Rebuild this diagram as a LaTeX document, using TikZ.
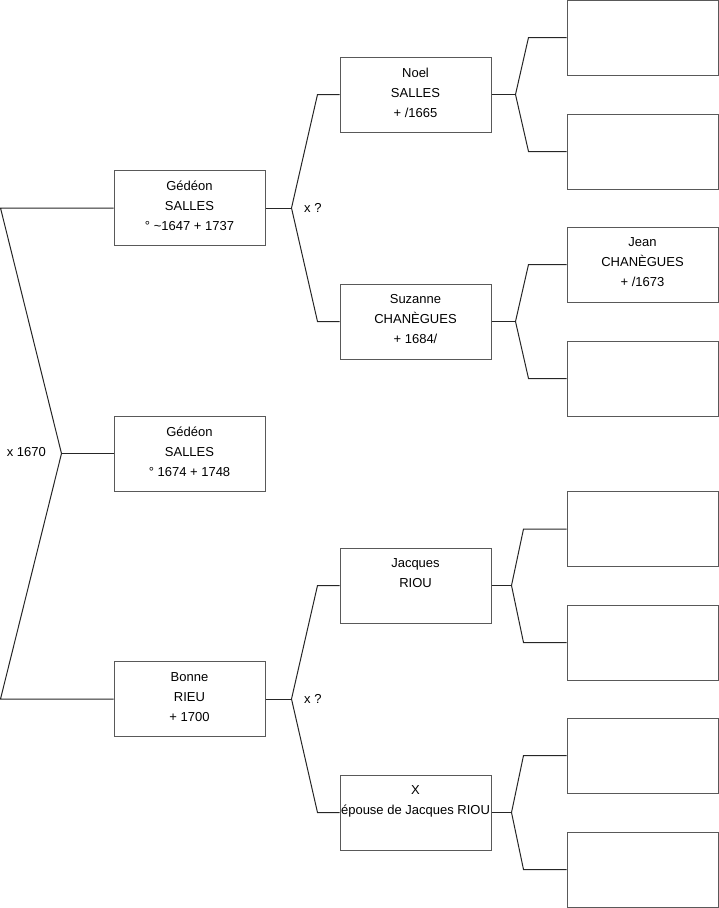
\documentclass[tikz,border=0pt]{standalone}
\usepackage{fontspec}
\setmainfont{Liberation Sans}
\usetikzlibrary{calc}
\begin{document}
\begin{tikzpicture}[
    x=1pt, y=-1pt,
    % Styles
    person/.style={
      rectangle,
      draw=black!65,
      line width=1pt,
      minimum width=151pt,
      minimum height=75pt,
      inner sep=0pt,
      label={[anchor=north, align=center, inner sep=0pt, yshift=-11pt,
              font=\fontsize{13}{20}\selectfont]north:#1},
  },
    link/.style={draw=black!85, line width=1pt},
    union/.style={font=\fontsize{13}{15}\selectfont, inner sep=0pt},
  ]
  \useasboundingbox (0,0) rectangle (719,908);
  % generation 1
  \node[person={Gédéon\\SALLES\\° \textasciitilde1647 + 1737}] (pere) at (189.5,208) {};
  \node[person={Gédéon\\SALLES\\° 1674 + 1748}] (sujet) at (189.5,453.5) {};
  \node[person={Bonne\\RIEU\\+ 1700}] (mere) at (189.5,699) {};
  % generation 2
  \node[person={Noel\\SALLES\\+ /1665}] (gpp) at (415.5,94.5) {};
  \node[person={Suzanne\\CHANÈGUES\\+ 1684/}] (gmp) at (415.5,321.5) {};
  \node[person={Jacques\\RIOU}] (gpm) at (415.5,585.5) {};
  \node[person={X\\épouse de Jacques RIOU}] (gmm) at (415.5,812.5) {};
  % generation 3
  \node[person={}] (a1) at (642.5,37.5) {};
  \node[person={}] (a2) at (642.5,151.5) {};
  \node[person={Jean\\CHANÈGUES\\+ /1673}] (a3) at (642.5,264.5) {};
  \node[person={}] (a4) at (642.5,378.5) {};
  \node[person={}] (a5) at (642.5,529) {};
  \node[person={}] (a6) at (642.5,642.5) {};
  \node[person={}] (a7) at (642.5,755.5) {};
  \node[person={}] (a8) at (642.5,869.5) {};
  % unions
  \node[union, anchor=east] (m0) at (46,452) {x 1670};
  \node[union, anchor=west] (m1) at (304,208) {x ?};
  \node[union, anchor=west] (m2) at (304,699) {x ?};
  % brackets
  \draw[link] (sujet.west) -- ++(-52,0) coordinate (f0);
  \draw[link] (pere.west) -- ++(-113,0) -- (f0) -- ($(mere.west)+(-113,0)$) -- (mere.west);
  \draw[link] (pere.east) -- ++(26,0) coordinate (f1);
  \draw[link] (gpp.west) -- ++(-22,0) -- (f1) -- ($(gmp.west)+(-22,0)$) -- (gmp.west);
  \draw[link] (mere.east) -- ++(26,0) coordinate (f2);
  \draw[link] (gpm.west) -- ++(-22,0) -- (f2) -- ($(gmm.west)+(-22,0)$) -- (gmm.west);
  \draw[link] (gpp.east) -- ++(24,0) coordinate (f3);
  \draw[link] (a1.west) -- ++(-38,0) -- (f3) -- ($(a2.west)+(-38,0)$) -- (a2.west);
  \draw[link] (gmp.east) -- ++(24,0) coordinate (f4);
  \draw[link] (a3.west) -- ++(-38,0) -- (f4) -- ($(a4.west)+(-38,0)$) -- (a4.west);
  \draw[link] (gpm.east) -- ++(20,0) coordinate (f5);
  \draw[link] (a5.west) -- ++(-43,0) -- (f5) -- ($(a6.west)+(-43,0)$) -- (a6.west);
  \draw[link] (gmm.east) -- ++(20,0) coordinate (f6);
  \draw[link] (a7.west) -- ++(-43,0) -- (f6) -- ($(a8.west)+(-43,0)$) -- (a8.west);
\end{tikzpicture}
\end{document}
